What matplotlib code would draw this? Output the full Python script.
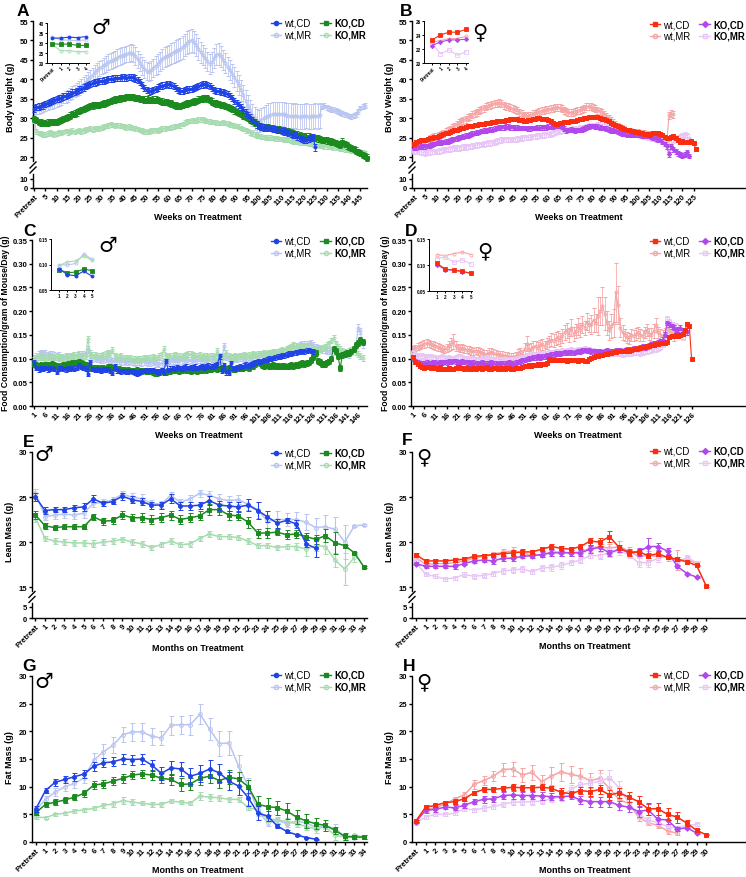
import numpy as np
import matplotlib
matplotlib.use('Agg')
import matplotlib.pyplot as plt
from matplotlib.lines import Line2D

plt.rcParams['font.family'] = ['Liberation Sans', 'DejaVu Sans']
plt.rcParams['font.weight'] = 'bold'

W, H = 746, 878

# ---------------- data ----------------
# A: male body weight (g), Pretreat = week 0
a_wt_cd = [32.5, 32.8, 33.0, 33.2, 33.3, 33.6, 33.9, 34.1, 34.4, 34.6,
           34.9, 35.1, 35.3, 35.6, 35.8, 36.1, 36.3, 36.6, 36.8, 37.1,
           37.4, 37.6, 37.9, 38.2, 38.5, 38.8, 39.0, 39.2, 39.4, 39.5,
           39.6, 39.7, 39.9, 40.0, 40.1, 40.2, 40.3, 40.3, 40.4, 40.5,
           40.5, 40.4, 40.6, 40.7, 40.5, 40.2, 39.8, 39.3, 38.6, 37.8,
           37.2, 36.9, 37.0, 37.3, 37.6, 37.9, 38.2, 38.4, 38.6, 38.8,
           38.7, 38.5, 38.2, 37.8, 37.2, 37.0, 37.1, 37.3, 37.4, 37.5,
           37.6, 37.8, 38.0, 38.3, 38.5, 38.7, 38.8, 38.6, 38.3, 37.8,
           37.3, 37.0, 37.1, 36.8, 36.7, 36.5, 36.3, 35.8, 35.2, 34.5,
           34.0, 33.4, 32.8, 32.1, 31.5, 30.8, 30.2, 29.6, 29.0, 28.4,
           28.0, 27.7, 27.6, 27.5, 27.4, 27.4, 27.3, 27.2, 27.0, 26.9,
           26.7, 26.6, 26.4, 26.2, 26.0, 25.8, 25.6, 25.3, 25.0, 24.7,
           24.5, 24.4, 24.6, 25.0, 25.2, 22.5]
a_wt_mr = [31.8, 32.0, 32.3, 32.5, 32.8, 33.0, 33.3, 33.5, 33.8, 34.0,
           34.2, 34.5, 34.8, 35.2, 35.5, 35.8, 36.2, 36.6, 37.0, 37.4,
           37.8, 38.3, 38.8, 39.4, 40.0, 40.6, 41.2, 41.8, 42.3, 42.8,
           43.2, 43.6, 44.0, 44.4, 44.7, 45.0, 45.3, 45.6, 45.9, 46.1,
           46.3, 46.5, 46.7, 46.9, 46.6, 46.0, 45.2, 44.3, 43.4, 42.7,
           42.2, 42.0, 42.3, 42.9, 43.5, 44.0, 44.6, 45.2, 45.7, 46.0,
           46.3, 46.6, 47.0, 47.3, 47.6, 47.8, 48.2, 48.8, 49.4, 49.8,
           50.0, 49.6, 48.8, 47.9, 47.0, 46.2, 45.4, 44.6, 44.0, 44.5,
           45.5, 46.3, 46.6, 46.0, 45.0, 44.2, 43.3, 42.4, 41.5, 40.6,
           39.6, 38.5, 37.2, 35.9, 34.5, 33.2, 32.0, 30.9, 30.0, 29.4,
           29.3, 29.6, 30.0, 30.4, 30.7, 30.9, 31.0, 31.1, 31.0, 31.0,
           31.1, 31.0, 30.8, 30.7, 30.6, 30.5, 30.6, 30.5, 30.4, 30.5,
           30.5, 30.6, 30.4, 30.5, 30.5, 30.6, 30.5, 30.8, 33.0, 33.2,
           32.8, 32.5, 32.3, 32.2, 32.0, 31.8, 31.5, 31.3, 31.0, 30.8,
           30.6, 30.5, 30.7, 31.0, 31.8, 32.6, 33.0, 33.2]
a_wt_mr_err = [1.0, 1.0, 1.1, 1.1, 1.1, 1.2, 1.2, 1.2, 1.3, 1.3,
               1.3, 1.4, 1.4, 1.4, 1.5, 1.5, 1.5, 1.6, 1.6, 1.6,
               1.7, 1.7, 1.7, 1.8, 1.8, 1.8, 1.8, 1.9, 1.9, 1.9,
               1.9, 2.0, 2.0, 2.0, 2.0, 2.0, 2.1, 2.1, 2.1, 2.1,
               2.1, 2.1, 2.2, 2.2, 2.2, 2.2, 2.2, 2.2, 2.3, 2.3,
               2.3, 2.3, 2.4, 2.4, 2.4, 2.5, 2.5, 2.5, 2.6, 2.6,
               2.6, 2.7, 2.7, 2.8, 2.8, 2.8, 2.9, 2.9, 3.0, 3.0,
               3.0, 2.9, 2.8, 2.8, 2.7, 2.6, 2.6, 2.5, 2.5, 2.5,
               2.6, 2.7, 2.8, 2.7, 2.6, 2.5, 2.5, 2.5, 2.5, 2.6,
               2.6, 2.6, 2.7, 2.7, 2.7, 2.8, 2.8, 2.8, 2.9, 2.9,
               2.9, 3.0, 3.0, 3.0, 3.1, 3.1, 3.1, 3.2, 3.2, 3.2,
               3.2, 3.2, 3.2, 3.2, 3.2, 3.2, 3.2, 3.2, 3.2, 3.2,
               3.2, 3.2, 3.2, 3.2, 3.2, 3.2, 3.2, 3.2, 0.6, 0.6,
               0.6, 0.6, 0.6, 0.6, 0.6, 0.6, 0.6, 0.6, 0.6, 0.6,
               0.6, 0.6, 0.6, 0.6, 0.6, 0.6, 0.6, 0.6]
a_ko_cd = [29.8, 29.5, 29.1, 28.9, 28.8, 28.8, 28.9, 29.0, 29.1, 29.0,
           29.0, 29.2, 29.5, 29.8, 30.1, 30.4, 30.7, 31.0, 31.2, 31.5,
           31.8, 32.1, 32.4, 32.7, 32.9, 33.1, 33.3, 33.4, 33.5, 33.5,
           33.6, 33.8, 34.0, 34.2, 34.4, 34.6, 34.8, 35.0, 35.1, 35.2,
           35.3, 35.4, 35.5, 35.5, 35.4, 35.3, 35.2, 35.0, 34.9, 34.8,
           34.8, 34.7, 34.7, 34.8, 34.8, 34.7, 34.5, 34.3, 34.2, 34.1,
           34.0, 33.8, 33.5, 33.3, 33.2, 33.2, 33.4, 33.6, 33.8, 34.0,
           34.1, 34.3, 34.5, 34.8, 35.0, 35.1, 35.2, 35.1, 34.7, 34.3,
           34.0, 33.8, 33.6, 33.5, 33.4, 33.2, 32.9, 32.6, 32.3, 32.0,
           31.7, 31.4, 31.0, 30.6, 30.3, 30.0, 29.6, 29.2, 28.8, 28.4,
           28.1, 27.9, 27.8, 27.7, 27.6, 27.5, 27.4, 27.3, 27.2, 27.1,
           27.0, 26.9, 26.8, 26.6, 26.4, 26.2, 26.0, 25.8, 25.6, 25.5,
           25.4, 25.3, 25.3, 25.2, 25.2, 25.0, 24.8, 24.6, 24.5, 24.4,
           24.3, 24.1, 24.0, 23.8, 23.6, 23.3, 23.2, 24.0, 23.4, 23.0,
           22.7, 22.4, 22.0, 21.7, 21.3, 21.0, 20.6, 20.2, 19.9]
a_ko_mr = [29.5, 26.6, 26.2, 26.0, 25.9, 25.8, 26.0, 26.3, 26.1, 25.9,
           26.0, 26.4, 26.2, 26.5, 26.7, 26.4, 26.6, 26.8, 26.5, 26.7,
           26.8, 26.6, 26.9, 27.1, 27.2, 27.3, 27.1, 27.4, 27.5, 27.4,
           27.6, 27.8, 28.0, 28.2, 28.4, 28.3, 28.2, 28.3, 28.1, 28.0,
           27.9, 27.7, 27.8, 27.6, 27.5, 27.4, 27.2, 27.0, 26.8, 26.6,
           26.5, 26.6, 26.8, 26.9, 27.0, 26.9, 27.1, 27.3, 27.4, 27.5,
           27.5, 27.6, 27.8, 28.0, 28.0, 28.2, 28.5, 28.9, 29.2, 29.3,
           29.4, 29.5, 29.4, 29.6, 29.7, 29.7, 29.5, 29.3, 29.1, 29.0,
           29.0, 28.9, 28.8, 28.8, 28.9, 28.8, 28.6, 28.4, 28.3, 28.1,
           28.0, 27.8, 27.5, 27.2, 26.9, 26.7, 26.4, 26.1, 25.8, 25.6,
           25.4, 25.3, 25.2, 25.1, 25.0, 25.0, 24.9, 24.8, 24.8, 24.7,
           24.7, 24.6, 24.5, 24.4, 24.2, 24.1, 24.0, 23.9, 23.8, 23.8,
           23.7, 23.6, 23.5, 23.4, 23.3, 23.3, 23.2, 23.0, 22.9, 22.8,
           22.8, 22.7, 22.6, 22.5, 22.4, 22.4, 22.3, 22.1, 22.0, 21.9,
           21.8, 21.7, 21.6, 21.5, 21.4, 21.3, 21.2, 21.0]

# B: female body weight (g)
b_wt_cd = [23.3, 23.8, 24.1, 24.3, 24.4, 24.5, 24.6, 24.8, 25.0, 25.2,
           25.3, 25.5, 25.7, 25.9, 26.1, 26.3, 26.5, 26.7, 26.9, 27.0,
           27.2, 27.4, 27.6, 27.8, 27.9, 28.0, 28.1, 28.2, 28.3, 28.4,
           28.5, 28.6, 28.7, 28.8, 28.9, 29.0, 29.1, 29.2, 29.3, 29.3,
           29.4, 29.5, 29.6, 29.7, 29.7, 29.8, 29.7, 29.6, 29.5, 29.4,
           29.4, 29.5, 29.6, 29.8, 29.9, 30.0, 30.0, 29.9, 29.8, 29.7,
           29.6, 29.3, 28.8, 28.4, 28.5, 28.7, 28.9, 29.0, 29.1, 29.1,
           29.2, 29.3, 29.4, 29.5, 29.7, 29.9, 30.0, 30.1, 30.2, 30.3,
           30.3, 30.3, 30.2, 30.1, 29.9, 29.7, 29.5, 29.2, 28.9, 28.6,
           28.3, 28.0, 27.7, 27.5, 27.3, 27.1, 26.9, 26.8, 26.6, 26.5,
           26.4, 26.3, 26.1, 26.0, 25.9, 25.8, 26.0, 26.2, 26.3, 26.2,
           26.0, 25.6, 25.2, 25.0, 24.8, 25.2, 25.5, 24.8, 24.3, 24.0,
           24.1, 24.0, 23.9, 24.0, 24.1, 23.6, 22.0]
b_wt_mr = [22.8, 23.0, 23.2, 23.5, 23.8, 24.1, 24.4, 24.7, 25.0, 25.2,
           25.4, 25.6, 25.9, 26.2, 26.5, 26.8, 27.2, 27.6, 28.0, 28.4,
           28.8, 29.2, 29.5, 29.8, 30.1, 30.5, 30.9, 31.3, 31.6, 31.9,
           32.3, 32.6, 32.9, 33.2, 33.4, 33.6, 33.8, 33.9, 34.0, 33.8,
           33.4, 33.1, 32.9, 32.7, 32.5, 32.3, 32.0, 31.6, 31.2, 30.8,
           30.5, 30.6, 30.8, 31.1, 31.3, 31.5, 31.7, 31.9, 32.1, 32.2,
           32.3, 32.4, 32.6, 32.7, 32.8, 32.7, 32.4, 32.1, 31.8, 31.5,
           31.4, 31.5, 31.7, 31.9, 32.1, 32.3, 32.6, 32.9, 33.1, 32.9,
           32.7, 32.4, 32.1, 31.8, 31.4, 31.0, 30.5, 30.0, 29.5, 28.9,
           28.4, 28.0, 27.6, 27.3, 27.0, 26.7, 26.6, 26.5, 26.4, 26.3,
           26.3, 26.2, 26.1, 26.0, 25.9, 25.8, 25.7, 25.6, 25.5, 25.5,
           25.4, 25.0, 24.5, 24.0, 30.8, 31.2, 31.0]
b_ko_cd = [22.4, 22.5, 22.6, 22.7, 22.8, 22.8, 22.9, 23.0, 23.2, 23.4,
           23.6, 23.7, 23.8, 23.9, 24.0, 24.1, 24.3, 24.5, 24.7, 24.8,
           25.0, 25.2, 25.3, 25.5, 25.6, 25.8, 26.0, 26.2, 26.4, 26.5,
           26.7, 26.8, 26.9, 27.0, 27.1, 27.1, 27.3, 27.5, 27.6, 27.7,
           27.7, 27.8, 27.8, 27.7, 27.7, 27.6, 27.6, 27.5, 27.5, 27.5,
           27.5, 27.4, 27.4, 27.5, 27.5, 27.6, 27.6, 27.7, 27.7, 27.7,
           27.8, 27.8, 27.9, 28.0, 28.0, 28.0, 27.8, 27.3, 26.9, 27.0,
           27.1, 27.0, 26.9, 27.0, 27.0, 27.1, 27.3, 27.6, 27.9, 28.0,
           28.0, 27.9, 27.8, 27.6, 27.5, 27.5, 27.3, 27.1, 26.9, 26.8,
           26.7, 26.5, 26.3, 26.1, 26.0, 25.8, 25.8, 25.8, 25.8, 25.8,
           25.8, 25.7, 25.6, 25.5, 25.4, 25.4, 25.2, 25.0, 24.8, 24.6,
           24.5, 24.0, 23.4, 22.8, 20.7, 22.8, 22.0, 21.5, 21.0, 20.7,
           20.4, 20.6, 21.3, 20.3]
b_ko_mr = [21.6, 21.5, 21.4, 21.3, 21.2, 21.1, 21.2, 21.3, 21.4, 21.4,
           21.5, 21.6, 21.7, 21.8, 21.9, 22.0, 22.1, 22.2, 22.3, 22.3,
           22.4, 22.5, 22.6, 22.6, 22.7, 22.8, 22.9, 23.0, 23.1, 23.2,
           23.3, 23.4, 23.5, 23.6, 23.6, 23.7, 23.9, 24.1, 24.3, 24.4,
           24.5, 24.5, 24.6, 24.5, 24.5, 24.6, 24.7, 24.8, 24.9, 25.0,
           25.0, 25.1, 25.2, 25.3, 25.3, 25.4, 25.5, 25.6, 25.7, 25.8,
           25.8, 26.0, 26.2, 26.4, 26.6, 26.7, 26.8, 26.9, 27.0, 27.1,
           27.1, 27.2, 27.3, 27.4, 27.5, 27.5, 27.6, 27.8, 28.0, 28.1,
           28.1, 28.2, 28.3, 28.4, 28.4, 28.4, 28.3, 28.1, 27.9, 27.7,
           27.5, 27.4, 27.2, 27.0, 26.8, 26.7, 26.5, 26.3, 26.1, 25.9,
           25.8, 25.6, 25.5, 25.3, 25.2, 25.0, 24.9, 24.8, 24.7, 24.6,
           24.5, 24.4, 24.3, 24.2, 24.2, 24.1, 24.3, 24.6, 25.0, 25.3,
           25.6, 25.7, 25.5, 24.5]

# C: male food consumption, weeks from 1
c_wt_cd = [0.091, 0.080, 0.077, 0.079, 0.078, 0.080, 0.077, 0.079, 0.080, 0.078,
           0.072, 0.079, 0.080, 0.078, 0.077, 0.079, 0.078, 0.080, 0.079, 0.081,
           0.086, 0.082, 0.080, 0.079, 0.068, 0.093, 0.078, 0.076, 0.077, 0.076,
           0.075, 0.077, 0.076, 0.078, 0.074, 0.070, 0.083, 0.075, 0.074, 0.073,
           0.074, 0.073, 0.072, 0.074, 0.073, 0.070, 0.068, 0.071, 0.073, 0.074,
           0.075, 0.074, 0.076, 0.075, 0.074, 0.073, 0.070, 0.076, 0.070, 0.095,
           0.076, 0.079, 0.080, 0.078, 0.082, 0.080, 0.079, 0.081, 0.083, 0.080,
           0.082, 0.081, 0.083, 0.080, 0.082, 0.084, 0.081, 0.083, 0.085, 0.083,
           0.084, 0.086, 0.088, 0.105, 0.074, 0.086, 0.071, 0.070, 0.090, 0.080,
           0.079, 0.081, 0.083, 0.082, 0.085, 0.087, 0.086, 0.088, 0.090, 0.092,
           0.094, 0.093, 0.095, 0.097, 0.098, 0.100, 0.099, 0.101, 0.103, 0.104,
           0.105, 0.106, 0.107, 0.108, 0.110, 0.111, 0.112, 0.113, 0.114, 0.115,
           0.116, 0.115, 0.117, 0.118, 0.116, 0.115]
c_wt_mr = [0.100, 0.104, 0.108, 0.112, 0.109, 0.111, 0.107, 0.110, 0.108, 0.106,
           0.104, 0.106, 0.103, 0.101, 0.102, 0.104, 0.103, 0.105, 0.107, 0.106,
           0.108, 0.110, 0.109, 0.107, 0.120, 0.104, 0.100, 0.101, 0.099, 0.100,
           0.098, 0.097, 0.099, 0.096, 0.097, 0.095, 0.094, 0.096, 0.095, 0.094,
           0.095, 0.093, 0.094, 0.095, 0.093, 0.092, 0.094, 0.093, 0.092, 0.094,
           0.093, 0.092, 0.091, 0.093, 0.090, 0.091, 0.089, 0.090, 0.092, 0.094,
           0.093, 0.095, 0.094, 0.096, 0.095, 0.094, 0.096, 0.097, 0.095, 0.096,
           0.097, 0.095, 0.096, 0.098, 0.097, 0.096, 0.098, 0.099, 0.097, 0.098,
           0.099, 0.098, 0.100, 0.097, 0.099, 0.126, 0.104, 0.101, 0.100, 0.099,
           0.101, 0.100, 0.102, 0.101, 0.100, 0.102, 0.103, 0.102, 0.104, 0.105,
           0.104, 0.106, 0.107, 0.106, 0.108, 0.109, 0.110, 0.111, 0.112, 0.113,
           0.114, 0.115, 0.116, 0.118, 0.119, 0.122, 0.125, 0.121, 0.124, 0.127,
           0.129, 0.130, 0.131, 0.130, 0.132, 0.128, 0.124, 0.122, 0.120, 0.119,
           0.118, 0.117, 0.116, 0.118, 0.115, 0.114, 0.116, 0.113, 0.112, 0.114,
           0.110, 0.109, 0.115, 0.120, 0.123, 0.165, 0.158, 0.130]
c_ko_cd = [0.088, 0.086, 0.085, 0.086, 0.084, 0.086, 0.087, 0.085, 0.088, 0.086,
           0.085, 0.083, 0.085, 0.087, 0.086, 0.088, 0.089, 0.090, 0.091, 0.092,
           0.093, 0.090, 0.088, 0.086, 0.084, 0.081, 0.080, 0.081, 0.080, 0.079,
           0.080, 0.081, 0.079, 0.082, 0.083, 0.081, 0.080, 0.079, 0.078, 0.077,
           0.076, 0.075, 0.076, 0.075, 0.074, 0.075, 0.076, 0.075, 0.074, 0.075,
           0.074, 0.073, 0.074, 0.072, 0.070, 0.069, 0.072, 0.074, 0.073, 0.072,
           0.074, 0.073, 0.075, 0.076, 0.075, 0.074, 0.076, 0.077, 0.076, 0.075,
           0.074, 0.076, 0.075, 0.074, 0.076, 0.075, 0.077, 0.076, 0.078, 0.077,
           0.079, 0.080, 0.078, 0.079, 0.080, 0.079, 0.078, 0.080, 0.079, 0.078,
           0.077, 0.079, 0.080, 0.079, 0.081, 0.082, 0.080, 0.083, 0.084, 0.088,
           0.092, 0.090, 0.087, 0.085, 0.086, 0.084, 0.085, 0.086, 0.084, 0.085,
           0.083, 0.084, 0.085, 0.083, 0.084, 0.086, 0.085, 0.087, 0.086, 0.088,
           0.090, 0.089, 0.091, 0.092, 0.097, 0.104, 0.112, 0.095, 0.093, 0.089,
           0.088, 0.092, 0.094, 0.100, 0.121, 0.116, 0.105, 0.080, 0.108, 0.110,
           0.112, 0.111, 0.115, 0.120, 0.128, 0.133, 0.139, 0.135]
c_ko_mr = [0.097, 0.100, 0.103, 0.102, 0.104, 0.101, 0.103, 0.105, 0.102, 0.104,
           0.103, 0.101, 0.104, 0.102, 0.105, 0.103, 0.104, 0.106, 0.108, 0.107,
           0.109, 0.106, 0.104, 0.105, 0.141, 0.112, 0.108, 0.107, 0.106, 0.105,
           0.106, 0.108, 0.110, 0.112, 0.109, 0.118, 0.106, 0.104, 0.103, 0.105,
           0.101, 0.102, 0.100, 0.101, 0.099, 0.100, 0.098, 0.099, 0.100, 0.101,
           0.100, 0.102, 0.101, 0.103, 0.101, 0.102, 0.106, 0.108, 0.120, 0.105,
           0.104, 0.106, 0.105, 0.107, 0.106, 0.105, 0.104, 0.106, 0.108, 0.110,
           0.109, 0.107, 0.106, 0.105, 0.107, 0.104, 0.105, 0.106, 0.104, 0.105,
           0.106, 0.104, 0.116, 0.105, 0.104, 0.106, 0.112, 0.105, 0.103, 0.104,
           0.105, 0.104, 0.106, 0.105, 0.107, 0.106, 0.108, 0.107, 0.109, 0.108,
           0.110, 0.109, 0.111, 0.112, 0.111, 0.113, 0.112, 0.114, 0.115, 0.114,
           0.116, 0.118, 0.117, 0.120, 0.122, 0.125, 0.128, 0.126, 0.124, 0.127,
           0.126, 0.124, 0.125, 0.123, 0.122, 0.120, 0.118, 0.116, 0.120, 0.123,
           0.125, 0.128, 0.132, 0.138, 0.143, 0.132, 0.125, 0.120, 0.117, 0.115,
           0.113, 0.116, 0.118, 0.120, 0.114, 0.110, 0.105, 0.101]

# D: female food consumption, weeks from 1
d_wt_cd = [0.103, 0.092, 0.088, 0.085, 0.083, 0.081, 0.082, 0.083, 0.080, 0.082,
           0.081, 0.079, 0.082, 0.078, 0.077, 0.079, 0.080, 0.078, 0.077, 0.081,
           0.082, 0.080, 0.081, 0.079, 0.080, 0.079, 0.078, 0.080, 0.079, 0.080,
           0.081, 0.079, 0.080, 0.082, 0.078, 0.079, 0.080, 0.081, 0.079, 0.078,
           0.080, 0.079, 0.081, 0.080, 0.079, 0.078, 0.080, 0.081, 0.080, 0.083,
           0.084, 0.085, 0.086, 0.085, 0.087, 0.086, 0.088, 0.087, 0.089, 0.088,
           0.090, 0.100, 0.097, 0.098, 0.096, 0.097, 0.098, 0.096, 0.097, 0.095,
           0.097, 0.096, 0.098, 0.097, 0.095, 0.096, 0.097, 0.095, 0.094, 0.100,
           0.102, 0.104, 0.105, 0.106, 0.107, 0.108, 0.109, 0.110, 0.111, 0.112,
           0.113, 0.114, 0.115, 0.116, 0.115, 0.117, 0.118, 0.117, 0.119, 0.120,
           0.121, 0.122, 0.123, 0.124, 0.125, 0.126, 0.127, 0.128, 0.129, 0.130,
           0.131, 0.132, 0.133, 0.132, 0.134, 0.145, 0.148, 0.147, 0.149, 0.148,
           0.150, 0.152, 0.160, 0.173, 0.168, 0.100]
d_wt_mr = [0.120, 0.122, 0.125, 0.127, 0.129, 0.131, 0.133, 0.132, 0.130, 0.128,
           0.127, 0.125, 0.123, 0.121, 0.119, 0.122, 0.126, 0.131, 0.136, 0.126,
           0.123, 0.121, 0.122, 0.120, 0.119, 0.118, 0.116, 0.115, 0.117, 0.116,
           0.114, 0.112, 0.110, 0.109, 0.111, 0.113, 0.112, 0.110, 0.109, 0.108,
           0.107, 0.106, 0.105, 0.104, 0.103, 0.104, 0.105, 0.110, 0.113, 0.107,
           0.120, 0.131, 0.118, 0.121, 0.124, 0.126, 0.122, 0.128, 0.130, 0.125,
           0.132, 0.136, 0.140, 0.138, 0.142, 0.145, 0.140, 0.148, 0.155, 0.160,
           0.150, 0.165, 0.152, 0.158, 0.168, 0.160, 0.172, 0.165, 0.178, 0.170,
           0.172, 0.182, 0.175, 0.190, 0.200, 0.210, 0.195, 0.175, 0.160, 0.168,
           0.175, 0.240, 0.212, 0.165, 0.155, 0.150, 0.145, 0.142, 0.150, 0.148,
           0.152, 0.155, 0.150, 0.148, 0.155, 0.160, 0.152, 0.150, 0.158, 0.170,
           0.155, 0.150, 0.148, 0.152, 0.165, 0.160, 0.155, 0.150]
d_wt_mr_err = [0.006, 0.006, 0.007, 0.007, 0.007, 0.008, 0.008, 0.008, 0.008, 0.008,
               0.008, 0.008, 0.008, 0.008, 0.008, 0.009, 0.010, 0.012, 0.015, 0.010,
               0.008, 0.008, 0.008, 0.008, 0.008, 0.008, 0.008, 0.008, 0.008, 0.008,
               0.008, 0.008, 0.008, 0.010, 0.012, 0.010, 0.008, 0.008, 0.008, 0.008,
               0.008, 0.008, 0.008, 0.008, 0.008, 0.008, 0.009, 0.010, 0.010, 0.012,
               0.012, 0.016, 0.012, 0.012, 0.012, 0.012, 0.012, 0.012, 0.012, 0.012,
               0.012, 0.012, 0.013, 0.013, 0.013, 0.014, 0.014, 0.015, 0.015, 0.016,
               0.015, 0.018, 0.015, 0.015, 0.018, 0.015, 0.018, 0.015, 0.018, 0.015,
               0.020, 0.025, 0.020, 0.040, 0.030, 0.040, 0.035, 0.025, 0.020, 0.025,
               0.030, 0.062, 0.040, 0.020, 0.015, 0.012, 0.012, 0.012, 0.012, 0.012,
               0.012, 0.012, 0.012, 0.012, 0.012, 0.013, 0.013, 0.014, 0.015, 0.015,
               0.012, 0.012, 0.012, 0.012, 0.012, 0.012, 0.012, 0.012]
d_ko_cd = [0.100, 0.095, 0.092, 0.090, 0.089, 0.090, 0.091, 0.089, 0.090, 0.092,
           0.091, 0.090, 0.092, 0.091, 0.093, 0.092, 0.094, 0.093, 0.095, 0.094,
           0.093, 0.092, 0.094, 0.093, 0.092, 0.091, 0.090, 0.091, 0.090, 0.089,
           0.090, 0.091, 0.090, 0.089, 0.090, 0.091, 0.090, 0.089, 0.088, 0.089,
           0.090, 0.089, 0.090, 0.091, 0.090, 0.089, 0.091, 0.093, 0.094, 0.096,
           0.097, 0.099, 0.100, 0.101, 0.102, 0.103, 0.104, 0.103, 0.104, 0.105,
           0.106, 0.107, 0.108, 0.109, 0.110, 0.111, 0.110, 0.112, 0.113, 0.112,
           0.114, 0.113, 0.112, 0.114, 0.116, 0.115, 0.117, 0.118, 0.116, 0.117,
           0.115, 0.116, 0.114, 0.115, 0.116, 0.114, 0.115, 0.117, 0.116, 0.115,
           0.116, 0.117, 0.118, 0.117, 0.116, 0.118, 0.119, 0.120, 0.119, 0.121,
           0.122, 0.121, 0.123, 0.125, 0.124, 0.126, 0.128, 0.130, 0.132, 0.133,
           0.135, 0.137, 0.140, 0.150, 0.175, 0.172, 0.168, 0.165, 0.160, 0.162,
           0.165, 0.160, 0.158, 0.155]
d_ko_mr = [0.112, 0.108, 0.106, 0.104, 0.105, 0.103, 0.104, 0.102, 0.103, 0.101,
           0.102, 0.100, 0.101, 0.103, 0.102, 0.100, 0.101, 0.099, 0.100, 0.102,
           0.104, 0.103, 0.101, 0.100, 0.099, 0.098, 0.100, 0.099, 0.098, 0.097,
           0.098, 0.099, 0.100, 0.101, 0.099, 0.098, 0.097, 0.098, 0.097, 0.096,
           0.097, 0.098, 0.097, 0.096, 0.097, 0.098, 0.097, 0.099, 0.100, 0.102,
           0.104, 0.105, 0.106, 0.105, 0.107, 0.108, 0.107, 0.109, 0.110, 0.109,
           0.111, 0.112, 0.113, 0.112, 0.114, 0.115, 0.114, 0.116, 0.115, 0.117,
           0.116, 0.118, 0.117, 0.116, 0.118, 0.119, 0.118, 0.120, 0.119, 0.118,
           0.117, 0.116, 0.115, 0.114, 0.113, 0.112, 0.114, 0.113, 0.112, 0.111,
           0.112, 0.113, 0.112, 0.111, 0.110, 0.112, 0.113, 0.112, 0.111, 0.113,
           0.114, 0.113, 0.112, 0.114, 0.115, 0.116, 0.117, 0.118, 0.119, 0.120,
           0.122, 0.125, 0.130, 0.140, 0.183, 0.178, 0.172, 0.170, 0.168, 0.160,
           0.150, 0.145]

# E: male lean mass (g), Pretreat = month 0
e_wt_cd = [25.0, 23.5, 23.6, 23.6, 23.8, 23.9, 24.8, 24.3, 24.5, 25.1, 24.7, 24.5, 24.1, 24.1, 24.8,
           24.0, 24.0, 24.1, 24.6, 24.1, 24.0, 23.9, 24.1, 23.5, 22.8, 22.1, 22.4, 22.0, 19.8, 19.3]
e_wt_cd_err = [0.4, 0.4, 0.3, 0.3, 0.3, 0.4, 0.4, 0.3, 0.3, 0.4, 0.4, 0.4, 0.4, 0.4, 0.5,
               0.4, 0.4, 0.4, 0.5, 0.5, 0.5, 0.6, 0.7, 0.9, 0.6, 0.5, 0.3, 0.4, 0.4, 1.0]
e_wt_mr = [25.5, 22.8, 23.0, 23.1, 23.0, 23.2, 24.3, 24.4, 24.7, 25.3, 25.0, 24.8, 24.3, 24.2, 25.2,
           24.4, 24.8, 25.4, 25.2, 24.8, 24.6, 24.7, 24.2, 23.6, 22.3, 22.5, 22.5, 22.5, 22.2, 21.6,
           21.7, 21.4, 20.0, 21.8, 21.9]
e_wt_mr_err = [0.4, 0.4, 0.4, 0.4, 0.4, 0.5, 0.4, 0.4, 0.3, 0.4, 0.5, 0.5, 0.4, 0.4, 0.4,
               0.4, 0.4, 0.4, 0.5, 0.5, 0.5, 0.5, 0.6, 0.9, 0.7, 1.0, 0.7, 0.8, 0.9, 1.1,
               1.3, 1.4, 1.9, 0.1, 0.1]
e_ko_cd = [23.0, 21.8, 21.6, 21.7, 21.7, 21.7, 22.8, 22.3, 22.4, 23.0, 22.7, 22.7, 22.5, 22.7, 23.0,
           22.5, 22.7, 22.9, 23.6, 23.6, 23.0, 22.9, 22.2, 21.0, 21.0, 21.1, 20.8, 20.9, 20.6, 20.3,
           20.7, 19.9, 19.6, 18.8, 17.2]
e_ko_cd_err = [0.4, 0.3, 0.3, 0.3, 0.3, 0.3, 0.3, 0.4, 0.4, 0.4, 0.4, 0.5, 0.5, 0.5, 0.5,
               0.5, 0.5, 0.5, 0.6, 0.6, 0.5, 0.5, 0.6, 0.5, 0.6, 0.3, 0.5, 0.4, 0.4, 0.5,
               0.7, 1.2, 0.1, 0.1, 0.1]
e_ko_mr = [22.7, 20.4, 20.1, 20.0, 19.9, 19.9, 19.8, 20.0, 20.1, 20.3, 20.0, 19.8, 19.4, 19.7, 20.1,
           19.7, 19.8, 20.4, 20.9, 20.6, 20.6, 20.5, 20.1, 19.6, 19.6, 19.4, 19.5, 19.5, 19.2, 19.6,
           19.5, 18.0, 17.0, 18.3]
e_ko_mr_err = [0.5, 0.3, 0.3, 0.3, 0.3, 0.3, 0.4, 0.3, 0.3, 0.3, 0.3, 0.3, 0.3, 0.3, 0.3,
               0.3, 0.3, 0.3, 0.3, 0.3, 0.3, 0.3, 0.3, 0.3, 0.3, 0.3, 0.3, 0.4, 0.7, 0.6,
               0.8, 0.8, 1.8, 0.5]

# F: female lean mass (g)
f_wt_cd = [18.6, 17.9, 17.9, 17.9, 18.0, 18.1, 18.4, 18.5, 18.6, 18.7, 18.8, 18.9, 18.9, 19.2, 19.5,
           19.3, 19.2, 19.5, 20.1, 20.0, 20.6, 19.4, 18.8, 18.9, 18.5, 18.7, 18.3, 18.1, 17.8, 17.4, 15.1]
f_wt_cd_err = [0.2, 0.2, 0.2, 0.2, 0.2, 0.2, 0.2, 0.2, 0.2, 0.2, 0.3, 0.3, 0.2, 0.2, 0.3,
               0.3, 0.3, 0.3, 0.4, 0.4, 0.6, 0.3, 0.3, 0.3, 0.3, 0.3, 0.2, 0.2, 0.1, 0.1, 0.1]
f_wt_mr = [18.3, 17.5, 17.6, 17.6, 17.7, 17.9, 18.2, 18.4, 18.6, 18.9, 19.0, 18.8, 18.5, 18.6, 18.9,
           18.9, 18.8, 18.9, 19.3, 19.5, 19.3, 19.5, 19.0, 18.4, 18.5, 18.4, 18.3, 18.0, 18.1, 17.6]
f_wt_mr_err = [0.3, 0.3, 0.3, 0.3, 0.3, 0.3, 0.3, 0.3, 0.3, 0.3, 0.4, 0.3, 0.3, 0.3, 0.4,
               0.4, 0.3, 0.3, 0.4, 0.5, 0.5, 0.6, 0.5, 0.6, 0.5, 0.6, 0.4, 1.1, 0.2, 0.2]
f_ko_cd = [17.6, 17.3, 17.3, 17.3, 17.3, 17.6, 17.9, 18.0, 17.9, 18.2, 18.2, 18.4, 18.5, 18.6, 18.8,
           18.8, 18.8, 18.8, 19.2, 19.4, 18.8, 19.2, 18.9, 18.9, 19.5, 19.5, 19.0, 17.3, 16.5, 16.1]
f_ko_cd_err = [0.2, 0.2, 0.2, 0.2, 0.3, 0.2, 0.2, 0.2, 0.3, 0.3, 0.3, 0.2, 0.3, 0.3, 0.3,
               0.3, 0.3, 0.3, 0.4, 0.4, 0.3, 0.3, 0.3, 0.4, 0.9, 0.4, 0.3, 0.2, 0.1, 0.1]
f_ko_mr = [17.8, 16.4, 16.2, 15.9, 16.0, 16.4, 16.2, 16.3, 16.5, 16.8, 16.9, 17.0, 16.7, 17.1, 17.2,
           17.4, 17.7, 18.0, 18.5, 18.5, 18.8, 19.0, 18.6, 17.7, 17.7, 18.2, 18.4, 17.6, 18.3, 17.7]
f_ko_mr_err = [0.3, 0.2, 0.2, 0.2, 0.2, 0.3, 0.3, 0.3, 0.3, 0.3, 0.3, 0.3, 0.3, 0.3, 0.4,
               0.4, 0.3, 0.3, 0.3, 0.4, 0.5, 0.4, 0.4, 0.5, 0.5, 0.4, 0.3, 0.3, 0.2, 0.2]

# G: male fat mass (g)
g_wt_cd = [6.0, 9.3, 10.8, 11.3, 11.8, 12.3, 13.7, 14.3, 14.5, 15.0, 14.9, 15.0, 13.9, 12.4, 13.4,
           13.2, 11.9, 12.4, 13.2, 12.5, 11.0, 10.1, 8.0, 5.2, 4.7, 2.9, 1.9, 1.3, 0.8, 0.5]
g_wt_cd_err = [0.5, 0.5, 0.6, 0.6, 0.7, 0.7, 0.8, 0.8, 0.8, 0.9, 0.9, 0.9, 1.0, 1.2, 1.3,
               1.3, 1.4, 1.6, 1.6, 1.6, 1.6, 1.6, 1.5, 1.3, 0.9, 0.4, 0.2, 0.2, 0.1, 0.1]
g_wt_mr = [5.8, 7.7, 9.0, 10.0, 10.6, 11.6, 14.8, 16.3, 17.5, 19.4, 19.9, 19.9, 19.1, 18.8, 21.1,
           21.2, 21.2, 23.1, 20.4, 17.8, 17.9, 13.7, 10.1, 5.7, 3.5, 3.9, 3.3, 3.8, 3.4, 2.7,
           2.9, 2.4, 1.0, 0.8, 0.9]
g_wt_mr_err = [0.5, 0.6, 0.7, 0.8, 0.9, 1.0, 1.3, 1.4, 1.4, 1.4, 1.6, 1.6, 1.5, 1.3, 1.7,
               1.6, 1.8, 1.8, 2.0, 2.3, 2.1, 2.0, 1.4, 1.0, 0.6, 0.5, 0.5, 0.5, 0.6, 0.6,
               0.6, 0.9, 0.5, 0.3, 0.3]
g_ko_cd = [5.3, 6.8, 7.2, 7.6, 8.1, 8.8, 10.3, 10.5, 11.0, 11.5, 12.1, 12.3, 12.1, 11.5, 11.3,
           10.4, 10.5, 11.5, 11.9, 11.1, 11.7, 11.4, 10.0, 6.8, 6.4, 6.2, 5.6, 4.5, 3.8, 3.3,
           3.0, 2.1, 1.0, 0.9, 0.9]
g_ko_cd_err = [0.5, 0.4, 0.5, 0.5, 0.5, 0.6, 0.7, 0.7, 0.7, 0.8, 0.8, 0.8, 0.9, 0.9, 1.0,
               1.1, 1.1, 1.2, 1.3, 1.3, 1.3, 1.3, 1.2, 1.6, 1.5, 1.3, 1.4, 1.3, 1.2, 1.0,
               1.0, 0.6, 0.6, 0.3, 0.3]
g_ko_mr = [4.5, 4.4, 5.0, 5.2, 5.6, 5.8, 6.1, 6.6, 6.9, 7.5, 7.2, 7.0, 6.8, 6.8, 7.4,
           7.2, 7.0, 8.3, 8.1, 8.0, 7.7, 7.7, 6.2, 5.8, 4.2, 4.0, 3.7, 3.3, 2.8, 2.4,
           2.7, 1.2, 0.9, 1.2, 0.9]
g_ko_mr_err = [0.4, 0.3, 0.3, 0.3, 0.4, 0.4, 0.4, 0.5, 0.5, 0.6, 0.5, 0.4, 0.4, 0.4, 0.4,
               0.4, 0.4, 0.7, 0.6, 0.5, 0.5, 0.5, 0.5, 0.6, 0.5, 0.5, 0.6, 0.6, 0.7, 0.7,
               0.8, 0.9, 0.5, 0.3, 0.3]

# H: female fat mass (g)
h_wt_cd = [3.8, 6.3, 6.6, 7.1, 7.3, 7.8, 8.9, 9.5, 9.5, 9.7, 9.9, 9.8, 9.8, 9.9, 9.7,
           9.0, 8.7, 9.3, 9.1, 9.5, 8.5, 8.9, 8.1, 7.3, 6.0, 6.0, 5.0, 4.5, 3.4, 2.1, 1.3]
h_wt_cd_err = [0.2, 0.3, 0.3, 0.4, 0.4, 0.4, 0.4, 0.5, 0.5, 0.5, 0.5, 0.5, 0.5, 0.5, 0.5,
               0.7, 0.6, 0.7, 0.8, 0.8, 0.9, 0.9, 0.9, 1.0, 1.1, 1.1, 1.1, 1.0, 0.5, 0.2, 0.1]
h_wt_mr = [3.6, 5.8, 6.2, 6.8, 7.8, 8.5, 10.4, 11.1, 11.9, 13.1, 13.2, 12.1, 12.6, 10.9, 11.9,
           12.7, 12.2, 11.9, 11.1, 11.5, 9.7, 7.7, 6.9, 4.5, 3.5, 3.0, 2.0, 1.6]
h_wt_mr_err = [0.2, 0.3, 0.3, 0.4, 0.4, 0.6, 0.8, 0.8, 0.9, 1.1, 1.2, 1.3, 1.4, 1.2, 1.6,
               1.6, 1.5, 1.4, 1.4, 1.5, 1.6, 1.2, 1.0, 0.7, 0.5, 0.4, 0.5, 0.4]
h_ko_cd = [3.7, 5.7, 5.9, 6.3, 6.2, 6.6, 7.3, 7.7, 7.8, 8.4, 8.5, 8.4, 8.4, 8.3, 8.2,
           8.2, 8.3, 7.6, 7.3, 7.3, 7.3, 6.6, 6.3, 5.5, 5.8, 4.1, 4.0, 2.3, 2.6, 1.6]
h_ko_cd_err = [0.2, 0.4, 0.4, 0.4, 0.5, 0.5, 0.5, 0.6, 0.6, 0.7, 0.7, 0.7, 0.7, 0.7, 0.6,
               0.6, 0.6, 0.7, 0.9, 0.9, 0.9, 0.9, 0.9, 1.0, 1.0, 0.8, 0.8, 0.4, 0.3, 0.2]
h_ko_mr = [3.5, 4.5, 5.0, 5.0, 5.2, 6.0, 5.8, 6.1, 6.4, 6.8, 7.2, 7.2, 7.3, 7.4, 7.8,
           8.2, 9.5, 10.4, 10.6, 11.0, 11.6, 9.8, 7.0, 5.0, 4.0, 3.5, 2.8, 2.5, 3.0, 3.2]
h_ko_mr_err = [0.2, 0.3, 0.3, 0.3, 0.3, 0.4, 0.4, 0.5, 0.5, 0.5, 0.6, 0.6, 0.6, 0.6, 0.6,
               0.7, 0.8, 1.0, 1.2, 1.4, 1.5, 1.3, 1.0, 0.8, 0.6, 0.5, 0.4, 0.4, 0.3, 0.3]

# insets (first weeks)
ia_wt_cd = [32.4, 32.5, 32.9, 32.7, 33.2]
ia_wt_mr = [33.2, 31.6, 31.4, 31.2, 31.6]
ia_ko_cd = [29.6, 29.4, 29.5, 28.8, 28.8]
ia_ko_mr = [29.3, 26.1, 26.2, 25.6, 25.7]
ib_wt_cd = [23.3, 24.0, 24.4, 24.4, 24.8]
ib_wt_mr = [23.0, 23.2, 23.5, 23.5, 23.8]
ib_ko_cd = [22.5, 23.0, 23.3, 23.3, 23.4]
ib_ko_mr = [22.8, 21.3, 21.9, 21.1, 21.6]
ic_wt_cd = [0.092, 0.080, 0.078, 0.087, 0.077]
ic_wt_mr = [0.100, 0.099, 0.102, 0.121, 0.110]
ic_ko_cd = [0.090, 0.084, 0.085, 0.091, 0.088]
ic_ko_mr = [0.098, 0.105, 0.107, 0.117, 0.108]
id_wt_cd = [0.103, 0.092, 0.090, 0.088, 0.084]
id_wt_mr = [0.120, 0.118, 0.122, 0.125, 0.120]
id_ko_cd = [0.100, 0.091, 0.090, 0.087, 0.084]
id_ko_mr = [0.112, 0.116, 0.105, 0.110, 0.102]

MALE = {'wt,CD': ('#2043e6', 'o', True), 'wt,MR': ('#b9c5f2', 'o', False),
        'KO,CD': ('#1b8a1f', 's', True), 'KO,MR': ('#a6dbb0', 'o', False)}
FEMALE = {'wt,CD': ('#fb2d10', 's', True), 'wt,MR': ('#f5a5a5', 'o', False),
          'KO,CD': ('#b248ec', 'D', True), 'KO,MR': ('#e8c6f6', 's', False)}
DRAW_ORDER = ['wt,MR', 'KO,MR', 'KO,CD', 'wt,CD']
LEG_ORDER = ['wt,CD', 'wt,MR', 'KO,CD', 'KO,MR']

fig = plt.figure(figsize=(W / 100, H / 100), dpi=100)


def fx(x):
    return x / W


def fy(y):
    return 1 - y / H


def box(l, t, r, b):
    return [l / W, 1 - b / H, (r - l) / W, (b - t) / H]


def style_ax(ax, lw=1.0, size=5.5, length=2.5):
    for s in ['top', 'right']:
        ax.spines[s].set_visible(False)
    for s in ['left', 'bottom']:
        ax.spines[s].set_linewidth(lw)
    ax.tick_params(width=lw, length=length, labelsize=size, pad=1)


def draw(ax, start, series, errs, sty, ms, lw, cap):
    for z, key in enumerate(DRAW_ORDER):
        y = np.asarray(series[key], dtype=float)
        x = np.arange(start, start + len(y))
        c, m, filled = sty[key]
        ax.errorbar(x, y, yerr=errs[key], color=c, marker=m, ms=ms,
                    mfc=c if filled else 'none', mec=c, mew=0.7, lw=lw,
                    elinewidth=lw * 0.7, capsize=cap, capthick=lw * 0.7,
                    zorder=2 + z, clip_on=False)


def legend(sty, right, top):
    hs = [Line2D([], [], color=sty[k][0], marker=sty[k][1], ms=3,
                 mfc=sty[k][0] if sty[k][2] else 'none', lw=1.0) for k in LEG_ORDER]
    leg = fig.legend(hs, LEG_ORDER, ncol=2, loc='upper right',
                     bbox_to_anchor=(fx(right), fy(top)), frameon=False, fontsize=6.9,
                     handlelength=1.1, handletextpad=0.35, columnspacing=0.9,
                     labelspacing=0.2, borderpad=0, borderaxespad=0)
    for t in leg.get_texts()[:2]:
        t.set_fontweight('normal')


def xticks(ax, ticks, labels, size=5.5):
    ax.set_xticks(ticks)
    ax.set_xticklabels(labels, rotation=45, ha='right', rotation_mode='anchor', fontsize=size)


def broken(l, r, t, split_t, split_b, b, ylim_t, yt_t, ylim_b, yt_b, xlim):
    top = fig.add_axes(box(l, t, r, split_t))
    bot = fig.add_axes(box(l, split_b, r, b))
    style_ax(top)
    style_ax(bot)
    top.spines['bottom'].set_visible(False)
    top.tick_params(axis='x', bottom=False, labelbottom=False)
    top.set_ylim(*ylim_t)
    top.set_yticks(yt_t)
    bot.set_ylim(*ylim_b)
    bot.set_yticks(yt_b)
    top.set_xlim(*xlim)
    bot.set_xlim(*xlim)
    mid = (split_t + split_b) / 2
    for dy in (-2.5, 2.5):
        fig.add_artist(Line2D([fx(l - 3), fx(l + 3)], [fy(mid + dy + 3), fy(mid + dy - 3)],
                              color='black', lw=1.0))
    return top, bot


def single(l, r, t, b, ylim, yt, xlim):
    ax = fig.add_axes(box(l, t, r, b))
    style_ax(ax)
    ax.set_ylim(*ylim)
    ax.set_yticks(yt)
    ax.set_xlim(*xlim)
    return ax


def inset(l, t, r, b, start, labels, series, sty, ylim, yt, fmt, xlim, rot):
    ax = fig.add_axes(box(l, t, r, b))
    style_ax(ax, lw=0.7, size=3.3, length=1.5)
    ax.tick_params(pad=0.5)
    for z, key in enumerate(DRAW_ORDER):
        y = series[key]
        x = np.arange(start, start + len(y))
        c, m, filled = sty[key]
        ax.plot(x, y, color=c, marker=m, ms=2.2, mfc=c if filled else 'none',
                mec=c, mew=0.6, lw=0.8, zorder=2 + z, clip_on=False)
    ax.set_ylim(*ylim)
    ax.set_yticks(yt)
    ax.set_yticklabels([fmt % v for v in yt])
    ax.set_xlim(*xlim)
    ax.set_xticks(np.arange(start, start + len(labels)))
    if rot:
        ax.set_xticklabels(labels, rotation=45, ha='right', rotation_mode='anchor', fontsize=3.3)
    else:
        ax.set_xticklabels(labels, fontsize=3.3)
    return ax


def panel_text(letter, x, y_base, sym, sx, sy, ylab, ylx, yly, xlab, xlx, xly, ylsize=6.5):
    fig.text(fx(x), fy(y_base), letter, fontsize=12.5, fontweight='bold', va='baseline', ha='left')
    fig.text(fx(sx), fy(sy), sym, fontsize=15, fontweight='normal', family=['DejaVu Sans'],
             ha='center', va='center')
    fig.text(fx(ylx), fy(yly), ylab, rotation=90, fontsize=ylsize, fontweight='bold',
             ha='center', va='center')
    fig.text(fx(xlx), fy(xly), xlab, fontsize=6.5, fontweight='bold', ha='center', va='center')


male_sym = '\u2642'
female_sym = '\u2640'

# ---------- A ----------
wk_a = [0] + list(range(5, 150, 5))
wk_a_lab = ['Pretreat'] + [str(v) for v in wk_a[1:]]
top, bot = broken(33, 367, 22, 162, 175, 189, (19, 55), range(20, 56, 5), (0, 15.5), [0, 10], (-0.5, 148))
draw(top, 0, {'wt,CD': a_wt_cd, 'wt,MR': a_wt_mr, 'KO,CD': a_ko_cd, 'KO,MR': a_ko_mr},
     {'wt,CD': 0.8, 'wt,MR': a_wt_mr_err, 'KO,CD': 0.8, 'KO,MR': 0.6}, MALE, 2.2, 0.8, 1.2)
xticks(bot, wk_a, wk_a_lab)
legend(MALE, 366, 19)
inset(47, 24, 89, 64, 0, ['Pretreat', '1', '2', '3', '4'],
      {'wt,CD': ia_wt_cd, 'wt,MR': ia_wt_mr, 'KO,CD': ia_ko_cd, 'KO,MR': ia_ko_mr},
      MALE, (20, 40), [20, 25, 30, 35, 40], '%d', (-0.6, 4.35), True)
panel_text('A', 17, 16, male_sym, 101, 28, 'Body Weight (g)', 11, 97, 'Weeks on Treatment', 198, 217)

# ---------- B ----------
wk_b = [0] + list(range(5, 130, 5))
wk_b_lab = ['Pretreat'] + [str(v) for v in wk_b[1:]]
top, bot = broken(412, 745, 22, 162, 175, 189, (19, 55), range(20, 56, 5), (0, 15.5), [0, 10], (-1, 148))
draw(top, 0, {'wt,CD': b_wt_cd, 'wt,MR': b_wt_mr, 'KO,CD': b_ko_cd, 'KO,MR': b_ko_mr},
     {'wt,CD': 0.5, 'wt,MR': 0.9, 'KO,CD': 0.6, 'KO,MR': 0.7}, FEMALE, 2.2, 0.8, 1.2)
xticks(bot, wk_b, wk_b_lab)
legend(FEMALE, 745, 20)
inset(424, 22, 468, 64, 0, ['Pretreat', '1', '2', '3', '4'],
      {'wt,CD': ib_wt_cd, 'wt,MR': ib_wt_mr, 'KO,CD': ib_ko_cd, 'KO,MR': ib_ko_mr},
      FEMALE, (20, 26), [20, 22, 24, 26], '%d', (-0.94, 4.24), True)
panel_text('B', 400, 16, female_sym, 480, 32, 'Body Weight (g)', 390, 97, 'Weeks on Treatment', 579, 217)

# ---------- C ----------
wk_c = list(range(1, 150, 5))
ax = single(32, 367, 241, 407, (0, 0.35), np.arange(0, 0.351, 0.05), (0, 150))
ax.set_yticklabels(['%.2f' % v for v in np.arange(0, 0.351, 0.05)])
draw(ax, 1, {'wt,CD': c_wt_cd, 'wt,MR': c_wt_mr, 'KO,CD': c_ko_cd, 'KO,MR': c_ko_mr},
     {'wt,CD': 0.005, 'wt,MR': 0.007, 'KO,CD': 0.006, 'KO,MR': 0.006}, MALE, 2.2, 0.8, 1.2)
xticks(ax, wk_c, [str(v) for v in wk_c])
legend(MALE, 366, 237)
inset(51, 240, 93, 291, 1, ['1', '2', '3', '4', '5'],
      {'wt,CD': ic_wt_cd, 'wt,MR': ic_wt_mr, 'KO,CD': ic_ko_cd, 'KO,MR': ic_ko_mr},
      MALE, (0.05, 0.15), [0.05, 0.10, 0.15], '%.2f', (0.03, 5.12), False)
panel_text('C', 23, 236, male_sym, 108, 246, 'Food Consumption/gram of Mouse/Day (g)', 6, 323,
           'Weeks on Treatment', 199, 436, ylsize=6.2)

# ---------- D ----------
wk_d = list(range(1, 130, 5))
ax = single(411, 745, 241, 407, (0, 0.35), np.arange(0, 0.351, 0.05), (0, 150))
ax.set_yticklabels(['%.2f' % v for v in np.arange(0, 0.351, 0.05)])
draw(ax, 1, {'wt,CD': d_wt_cd, 'wt,MR': d_wt_mr, 'KO,CD': d_ko_cd, 'KO,MR': d_ko_mr},
     {'wt,CD': 0.004, 'wt,MR': d_wt_mr_err, 'KO,CD': 0.005, 'KO,MR': 0.006}, FEMALE, 2.2, 0.8, 1.2)
xticks(ax, wk_d, [str(v) for v in wk_d])
legend(FEMALE, 745, 237)
inset(429, 240, 472, 292, 1, ['1', '2', '3', '4', '5'],
      {'wt,CD': id_wt_cd, 'wt,MR': id_wt_mr, 'KO,CD': id_ko_cd, 'KO,MR': id_ko_mr},
      FEMALE, (0.05, 0.15), [0.05, 0.10, 0.15], '%.2f', (0.06, 5.12), False)
panel_text('D', 405, 236, female_sym, 485, 251, 'Food Consumption/gram of Mouse/Day (g)', 386, 323,
           'Weeks on Treatment', 578, 436, ylsize=6.2)

# ---------- E ----------
mo_34 = list(range(0, 35))
mo_34_lab = ['Pretreat'] + [str(v) for v in mo_34[1:]]
mo_30 = list(range(0, 31))
mo_30_lab = ['Pretreat'] + [str(v) for v in mo_30[1:]]
top, bot = broken(32, 367, 453, 592, 604, 619, (14.56, 30), [15, 20, 25, 30], (0, 6.8), [0, 5], (-0.35, 34.3))
draw(top, 0, {'wt,CD': e_wt_cd, 'wt,MR': e_wt_mr, 'KO,CD': e_ko_cd, 'KO,MR': e_ko_mr},
     {'wt,CD': e_wt_cd_err, 'wt,MR': e_wt_mr_err, 'KO,CD': e_ko_cd_err, 'KO,MR': e_ko_mr_err},
     MALE, 2.8, 1.1, 1.8)
xticks(bot, mo_34, mo_34_lab)
legend(MALE, 366, 449)
panel_text('E', 23, 447, male_sym, 44, 455, 'Lean Mass (g)', 10, 532, 'Months on Treatment', 198, 649)

# ---------- F ----------
top, bot = broken(412, 745, 453, 592, 604, 619, (14.56, 30), [15, 20, 25, 30], (0, 6.8), [0, 5], (-0.4, 34.0))
draw(top, 0, {'wt,CD': f_wt_cd, 'wt,MR': f_wt_mr, 'KO,CD': f_ko_cd, 'KO,MR': f_ko_mr},
     {'wt,CD': f_wt_cd_err, 'wt,MR': f_wt_mr_err, 'KO,CD': f_ko_cd_err, 'KO,MR': f_ko_mr_err},
     FEMALE, 2.8, 1.1, 1.8)
xticks(bot, mo_30, mo_30_lab)
legend(FEMALE, 745, 447)
panel_text('F', 402, 445, female_sym, 424, 457, 'Lean Mass (g)', 389, 532, 'Months on Treatment', 585, 647)

# ---------- G ----------
ax = single(32, 367, 677, 843, (0, 30), range(0, 31, 5), (-0.4, 34.3))
draw(ax, 0, {'wt,CD': g_wt_cd, 'wt,MR': g_wt_mr, 'KO,CD': g_ko_cd, 'KO,MR': g_ko_mr},
     {'wt,CD': g_wt_cd_err, 'wt,MR': g_wt_mr_err, 'KO,CD': g_ko_cd_err, 'KO,MR': g_ko_mr_err},
     MALE, 2.8, 1.1, 1.8)
xticks(ax, mo_34, mo_34_lab)
legend(MALE, 366, 671)
panel_text('G', 22, 671, male_sym, 44, 682, 'Fat Mass (g)', 10, 758, 'Months on Treatment', 198, 871)

# ---------- H ----------
ax = single(412, 745, 677, 843, (0, 30), range(0, 31, 5), (-0.4, 34.0))
draw(ax, 0, {'wt,CD': h_wt_cd, 'wt,MR': h_wt_mr, 'KO,CD': h_ko_cd, 'KO,MR': h_ko_mr},
     {'wt,CD': h_wt_cd_err, 'wt,MR': h_wt_mr_err, 'KO,CD': h_ko_cd_err, 'KO,MR': h_ko_mr_err},
     FEMALE, 2.8, 1.1, 1.8)
xticks(ax, mo_30, mo_30_lab)
legend(FEMALE, 745, 671)
panel_text('H', 403, 671, female_sym, 424, 682, 'Fat Mass (g)', 389, 758, 'Months on Treatment', 585, 871)

fig.savefig('out.png', dpi=100)
